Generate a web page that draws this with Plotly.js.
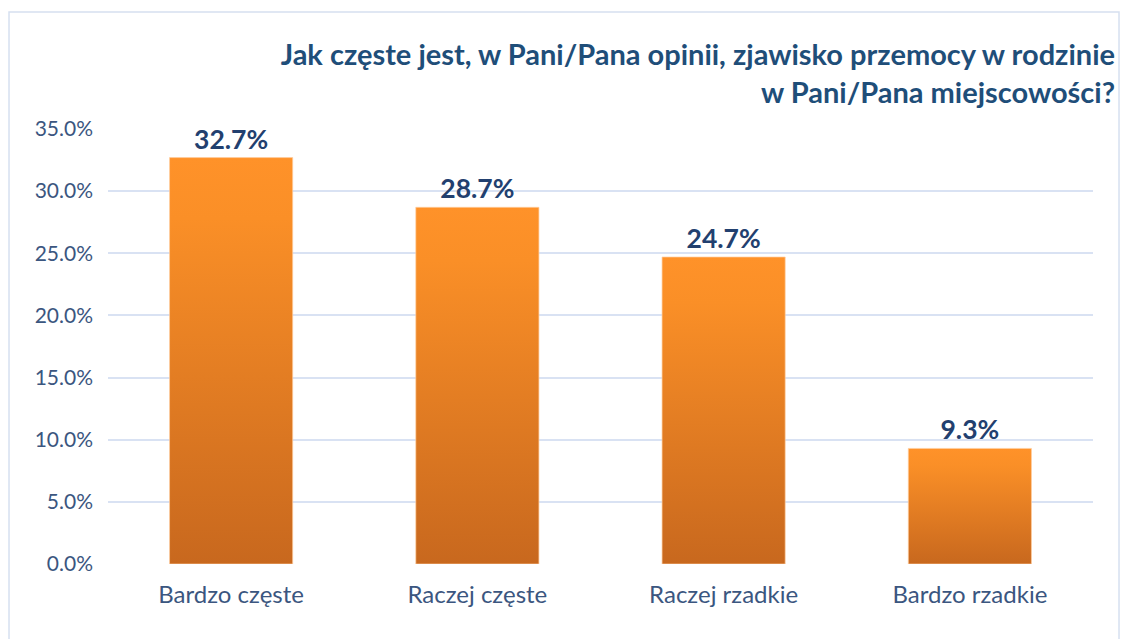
<!DOCTYPE html>
<html>
<head>
<meta charset="utf-8">
<script src="https://cdn.plot.ly/plotly-3.0.1.min.js"></script>
<style>html,body{margin:0;padding:0;background:#fff;}#chart{width:1123px;height:639px;}</style>
</head>
<body>
<div id="chart"></div>
<script>
const categories = ["Bardzo częste", "Raczej częste", "Raczej rzadkie", "Bardzo rzadkie"];
const values = [32.7, 28.7, 24.7, 9.3];
const titleLine1 = "Jak częste jest, w Pani/Pana opinii, zjawisko przemocy w rodzinie";
const titleLine2 = "w Pani/Pana miejscowości?";
const yTickValues = [0, 5, 10, 15, 20, 25, 30, 35];
const yTickText = yTickValues.map(function (v) { return v.toFixed(1) + "%"; });

const FONT = "Lato, 'Noto Sans', sans-serif";

const trace = {
  type: "bar",
  x: categories,
  y: values,
  width: 0.5,
  marker: { color: "#E8801F", line: { color: "rgba(255,205,160,0.7)", width: 1 } },
  texttemplate: "%{y:.1f}%",
  textposition: "outside",
  cliponaxis: false,
  textfont: { family: FONT, size: 26.5, color: "#22406F", weight: "bold" },
  hoverinfo: "x+y"
};

const layout = {
  width: 1123,
  height: 639,
  margin: { l: 108, r: 30, t: 129, b: 75 },
  paper_bgcolor: "#ffffff",
  plot_bgcolor: "#ffffff",
  showlegend: false,
  title: {
    text: titleLine1 + "<br>" + titleLine2,
    font: { family: FONT, size: 29, color: "#1F4E79", weight: "bold" },
    xref: "container",
    x: 1,
    xanchor: "right",
    pad: { r: 8 },
    yref: "container",
    y: 1 - 65 / 639,
    yanchor: "top",
    automargin: false
  },
  xaxis: {
    type: "category",
    showgrid: false,
    zeroline: false,
    showline: false,
    ticks: "",
    ticklabelstandoff: 14,
    tickfont: { family: FONT, size: 24, color: "#3B5680" }
  },
  yaxis: {
    range: [0, 35],
    tickvals: yTickValues,
    ticktext: yTickText,
    showgrid: true,
    gridcolor: "#D9E2F3",
    gridwidth: 2,
    zeroline: false,
    showline: false,
    ticks: "",
    ticklabelstandoff: 14,
    tickfont: { family: FONT, size: 21, color: "#3B5680" }
  },
  shapes: [{
    type: "rect",
    xref: "paper", yref: "paper",
    x0: -0.1005, x1: 1.0264,
    y0: -0.25, y1: 1.269,
    line: { color: "#D6E0F0", width: 1.5 },
    fillcolor: "rgba(0,0,0,0)",
    layer: "below"
  }]
};

Plotly.newPlot("chart", [trace], layout, { displayModeBar: false, staticPlot: true }).then(function (gd) {
  const svg = gd.querySelector("svg.main-svg");
  const ns = "http://www.w3.org/2000/svg";
  let defs = svg.querySelector("defs");
  if (!defs) { defs = document.createElementNS(ns, "defs"); svg.insertBefore(defs, svg.firstChild); }
  const grad = document.createElementNS(ns, "linearGradient");
  grad.setAttribute("id", "barGrad");
  grad.setAttribute("x1", "0"); grad.setAttribute("y1", "0");
  grad.setAttribute("x2", "0"); grad.setAttribute("y2", "1");
  [["0", "#FF9229"], ["0.15", "#FA8F27"], ["1", "#C8681E"]].forEach(function (s) {
    const stop = document.createElementNS(ns, "stop");
    stop.setAttribute("offset", s[0]);
    stop.setAttribute("stop-color", s[1]);
    grad.appendChild(stop);
  });
  defs.appendChild(grad);
  gd.querySelectorAll(".barlayer .point path").forEach(function (p) {
    p.style.fill = "url(#barGrad)";
  });
});
</script>
</body>
</html>
